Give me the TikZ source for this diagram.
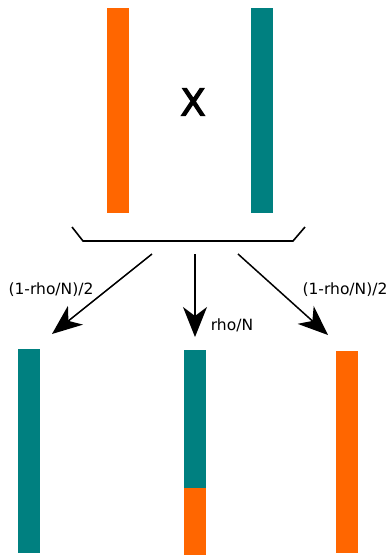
\documentclass[tikz,border=0pt]{standalone}
\usepackage{fontspec}
\setmainfont{DejaVu Sans}
\newfontfamily\crossfont[FakeBold=3]{DejaVu Sans}
\usetikzlibrary{arrows.meta}
\definecolor{chrA}{HTML}{FF6600}
\definecolor{chrB}{HTML}{008080}
\begin{document}
\begin{tikzpicture}[x=1pt,y=-1pt,
  bar/.style={rectangle, inner sep=0pt, outer sep=0pt, minimum width=22pt, draw=none},
  lbl/.style={font=\fontsize{15.5}{18}\selectfont, inner sep=0pt},
  offspring/.style={-{Stealth[length=30pt,width=24pt,inset=9pt]}, line width=1.5pt},
  bracket/.style={line width=1.6pt, line join=miter}]
\useasboundingbox (0,0) rectangle (389,555);

% parental chromosomes
\node[bar, fill=chrA, minimum height=205pt, anchor=north west] (p1) at (107,8) {};
\node[bar, fill=chrB, minimum height=205pt, anchor=north west] (p2) at (251,8) {};
\node[font=\crossfont\fontsize{37}{42}\selectfont, inner sep=0pt] (cross) at (193,102) {X};

% bracket joining the parents
\coordinate (bl) at (72,227);
\coordinate (bl2) at (83,241);
\coordinate (br2) at (293,241);
\coordinate (br) at (305,227);
\draw[bracket] (bl) -- (bl2) -- (br2) -- (br);

% offspring chromosomes
\node[bar, fill=chrB, minimum height=204pt, anchor=north west] (c1) at (18,349) {};
\node[bar, fill=chrB, minimum height=138pt, anchor=north west] (c2a) at (184,350) {};
\node[bar, fill=chrA, minimum height=67pt, anchor=north west] (c2b) at (184,488) {};
\node[bar, fill=chrA, minimum height=202pt, anchor=north west] (c3) at (336,351) {};

% arrows to each outcome
\coordinate (s1) at (152,254);
\coordinate (t1) at (52,334);
\coordinate (s2) at (195,254);
\coordinate (t2) at (195,337);
\coordinate (s3) at (238,254);
\coordinate (t3) at (328,335);
\draw[offspring] (s1) -- (t1);
\draw[offspring] (s2) -- (t2);
\draw[offspring] (s3) -- (t3);

\node[lbl] (l1) at (51,290) {(1-rho/N)/2};
\node[lbl] (l2) at (232,325) {rho/N};
\node[lbl] (l3) at (345,290) {(1-rho/N)/2};
\end{tikzpicture}
\end{document}
